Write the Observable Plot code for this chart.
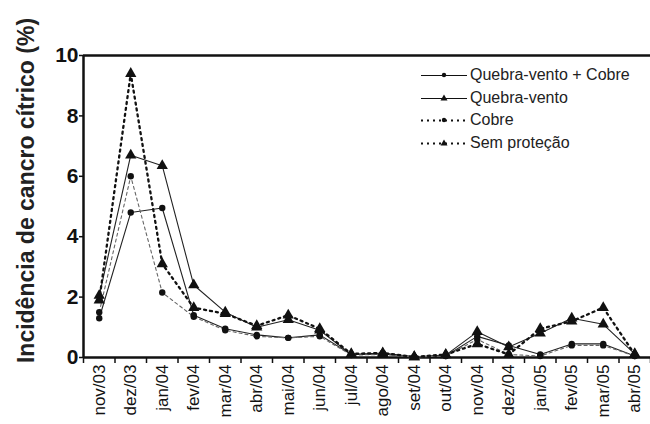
<!DOCTYPE html>
<html>
<head>
<meta charset="utf-8">
<script src="https://cdn.jsdelivr.net/npm/d3@7"></script>
<script src="https://cdn.jsdelivr.net/npm/@observablehq/plot@0.6"></script>
<style>
  html, body { margin: 0; padding: 0; background: #fff; }
  #wrap { position: relative; width: 650px; height: 424px; font-family: "Liberation Sans", Arial, sans-serif; }
  #legend { position: absolute; left: 420px; top: 64px; font-size: 16px; color: #222; }
  #legend .row { height: 22.5px; display: flex; align-items: center; }
  #legend svg { margin-right: 2px; }
</style>
</head>
<body>
<div id="wrap"><div id="chart"></div><div id="legend"></div></div>
<script>
const months = ["nov/03","dez/03","jan/04","fev/04","mar/04","abr/04","mai/04","jun/04","jul/04","ago/04","set/04","out/04","nov/04","dez/04","jan/05","fev/05","mar/05","abr/05"];
const seriesNames = ["Quebra-vento + Cobre", "Quebra-vento", "Cobre", "Sem proteção"];
const qvCobre = [1.3, 4.8, 4.95, 1.4, 0.95, 0.75, 0.65, 0.75, 0.1, 0.15, 0.02, 0.05, 0.7, 0.4, 0.1, 0.45, 0.45, 0.05];
const qv      = [2.05, 6.7, 6.35, 2.4, 1.5, 1.0, 1.25, 0.9, 0.1, 0.12, 0.02, 0.08, 0.85, 0.35, 0.8, 1.3, 1.1, 0.12];
const cobre   = [1.5, 6.0, 2.15, 1.35, 0.9, 0.7, 0.65, 0.7, 0.08, 0.1, 0.02, 0.05, 0.6, 0.1, 0.05, 0.4, 0.4, 0.05];
const semProt = [1.9, 9.4, 3.1, 1.65, 1.45, 1.05, 1.4, 0.95, 0.12, 0.15, 0.02, 0.1, 0.45, 0.1, 0.95, 1.2, 1.65, 0.1];
const yTicks = [0, 2, 4, 6, 8, 10];
const yLabel = "Incidência de cancro cítrico (%)";

const styles = [
  {values: qvCobre, symbol: "circle", r: 3.2, dash: null, width: 1.1, color: "#222"},
  {values: qv, symbol: "triangle", r: 4.2, dash: null, width: 1.1, color: "#222"},
  {values: cobre, symbol: "circle", r: 3.2, dash: "3,3", width: 1.1, color: "#666"},
  {values: semProt, symbol: "triangle", r: 4.2, dash: "2,4", width: 2.3, color: "#111"}
];

const seriesMarks = [];
styles.forEach((s, k) => {
  const data = s.values.map((v, i) => ({i, v, series: seriesNames[k]}));
  seriesMarks.push(Plot.line(data, {x: "i", y: "v", stroke: s.color, strokeWidth: s.width, strokeDasharray: s.dash || undefined}));
});
styles.forEach((s, k) => {
  const data = s.values.map((v, i) => ({i, v, series: seriesNames[k]}));
  seriesMarks.push(Plot.dot(data, {x: "i", y: "v", symbol: () => s.symbol, r: s.r, fill: "#111", stroke: "none"}));
});

const chart = Plot.plot({
  width: 650, height: 424,
  marginLeft: 83, marginRight: 0, marginTop: 55, marginBottom: 67,
  style: {fontFamily: "'Liberation Sans', Arial, sans-serif", color: "#111", background: "#fff"},
  x: {domain: [-0.5, months.length - 0.5]},
  y: {domain: [0, 10]},
  symbol: {type: "identity"},
  marks: [
    Plot.axisY({ticks: yTicks, tickSize: 4, tickPadding: 1, fontSize: 21, fontWeight: "bold", label: null, strokeWidth: 1.5}),
    Plot.axisX({ticks: d3.range(months.length), tickSize: 0, tickPadding: 7, tickFormat: i => months[i], tickRotate: -90, fontSize: 17, label: null}),
    Plot.axisX({ticks: d3.range(months.length + 1).map(i => i - 0.5), tickSize: 6, tickFormat: () => "", label: null, strokeWidth: 1.5}),
    Plot.ruleY([0], {stroke: "#111", strokeWidth: 2.5}),
    Plot.ruleY([10], {stroke: "#111", strokeWidth: 2.5}),
    Plot.ruleX([-0.5], {stroke: "#111", strokeWidth: 2.5}),
    ...seriesMarks,
    Plot.text([yLabel], {frameAnchor: "left", textAnchor: "middle", rotate: -90, dx: -57, dy: -16, fontSize: 23, fontWeight: "bold", fill: "#222"})
  ]
});
document.getElementById("chart").appendChild(chart);

// legend
const legend = document.getElementById("legend");
styles.forEach((s, k) => {
  const row = document.createElement("div");
  row.className = "row";
  const marker = s.symbol === "circle"
    ? `<circle cx="24" cy="6" r="2.2" fill="#111"/>`
    : `<path d="M24,2.5 L27.5,8.5 L20.5,8.5 Z" fill="#111"/>`;
  row.innerHTML = `<svg width="48" height="12"><line x1="1" y1="6.5" x2="47" y2="6.5" stroke="#111" stroke-width="${s.dash ? 2 : 1}" ${s.dash ? 'stroke-dasharray="2,4"' : ''}/>${marker}</svg><span>${seriesNames[k]}</span>`;
  legend.appendChild(row);
});
</script>
</body>
</html>
